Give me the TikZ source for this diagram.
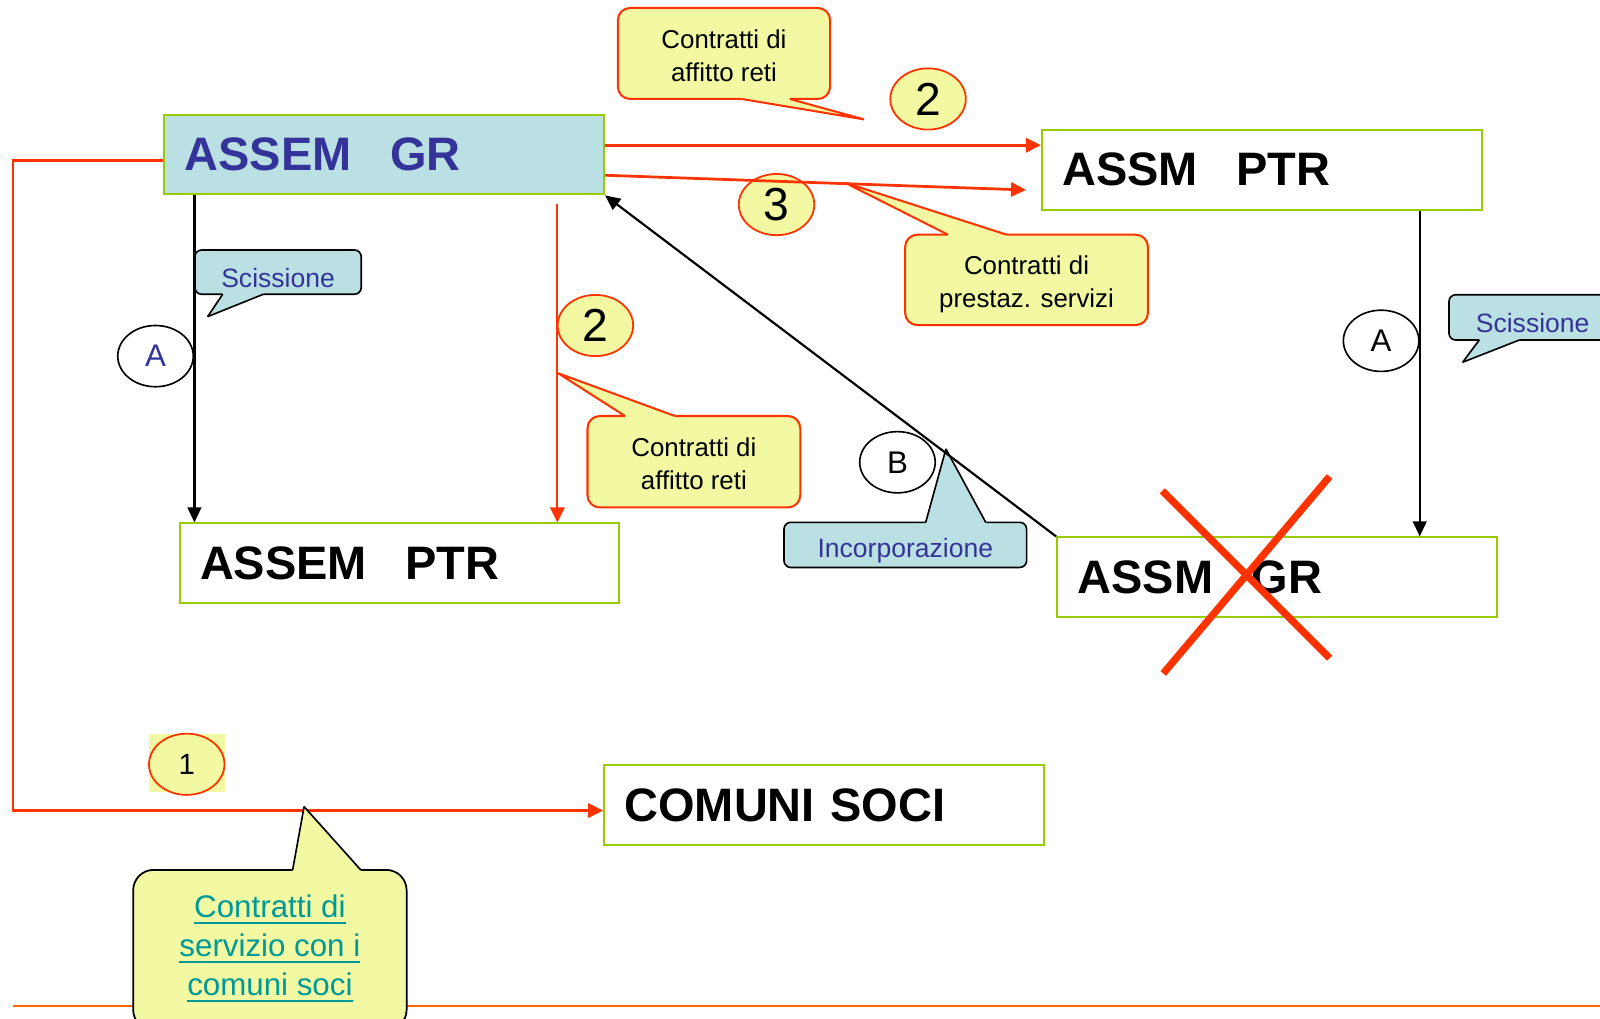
\documentclass[tikz,border=0pt]{standalone}
\usepackage{fontspec}
\setmainfont{Liberation Sans}
\usetikzlibrary{shapes.geometric,arrows.meta,calc}

\definecolor{boxgreen}{HTML}{99CC00}
\definecolor{lblue}{HTML}{BBE0E3}
\definecolor{dblue}{HTML}{333399}
\definecolor{redl}{HTML}{FF3300}
\definecolor{yel}{HTML}{F2F9A2}
\definecolor{orangel}{HTML}{FF6600}
\definecolor{tealt}{HTML}{009999}

\newcommand{\ulx}[1]{\leavevmode\setbox0\hbox{#1}\rlap{\rule[-4.5pt]{\wd0}{1.6pt}}\box0}
% #1 fill, #2 stroke style, #3 base 1, #4 tip, #5 base 2, #6 inward offset
\newcommand{\callptr}[6]{%
  \fill[#1] ($#3+#6$) -- #3 -- #4 -- #5 -- ($#5+#6$) -- cycle;
  \draw[#2] #3 -- #4 -- #5;}

\begin{document}
\begin{tikzpicture}[x=0.75pt,y=-0.75pt,
  entity/.style={draw=boxgreen, line width=1.5pt, anchor=north west,
    minimum height=58.5pt, text width=293.25pt, inner xsep=15pt, inner ysep=0pt,
    align=left, font=\bfseries\fontsize{34.5}{40}\selectfont},
  ycall/.style={draw=redl, fill=yel, line width=1.5pt, rounded corners=9pt,
    inner sep=0pt, align=center, text depth=0pt, font=\fontsize{19}{24}\selectfont},
  bcall/.style={draw=black, fill=lblue, line width=1.2pt, rounded corners=5pt, inner sep=0pt},
  btext/.style={inner sep=0pt, text=dblue, font=\fontsize{19.5}{24}\selectfont},
  ytext/.style={inner sep=0pt, align=center, font=\fontsize{19}{24}\selectfont},
  numc/.style={ellipse, draw=redl, fill=yel, line width=1.3pt, minimum width=55.5pt,
    minimum height=45pt, inner sep=0pt, font=\fontsize{34}{40}\selectfont},
  letc/.style={ellipse, draw=black, fill=white, line width=1.2pt, minimum width=55.5pt,
    minimum height=45pt, inner sep=0pt, font=\fontsize{23}{28}\selectfont},
  redarr/.style={draw=redl, line width=2pt, -{Triangle[length=11pt,width=10.5pt]}},
  blkarr/.style={draw=black, line width=1.6pt, -{Triangle[length=11pt,width=10pt]}},
  ptrred/.style={draw=redl, line width=1.5pt, line join=bevel},
  ptrblk/.style={draw=black, line width=1.2pt, line join=bevel}
]
\useasboundingbox (0,0) rectangle (1568,998);
\clip (0,0) rectangle (1568,998);

% boxes
\node[entity, fill=lblue, text=dblue] (gr1) at (160,111.5) {ASSEM\hspace{28.5pt}GR};
\node[entity] (ptr1) at (1020,126.4) {ASSM\hspace{28.5pt}PTR};
\node[entity] (ptr2) at (175,512) {ASSEM\hspace{28.5pt}PTR};
\node[entity] (gr2) at (1035,525.7) {ASSM\hspace{28.5pt}GR};
\node[entity] (soci) at (591,749) {COMUNI SOCI};

% ellipses
\fill[yel] (146,719.5) rectangle (220.5,776);
\node[numc, font=\fontsize{21.5}{26}\selectfont] (n1) at (183,749) {1};
\node[numc] (n2a) at (909.5,97) {2};
\node[numc] (n3) at (761,200.5) {3};
\node[numc] (n2b) at (583.5,319) {2};
\node[letc, text=dblue] (eA1) at (152.4,349) {A};
\node[letc] (eA2) at (1353.5,334) {A};
\node[letc] (eB) at (879.5,453) {B};

% yellow callouts
\node[ycall, minimum width=156pt, minimum height=66.9pt] (c1) at (709.5,52.4) {};
\node[ytext] (c1t) at ([yshift=-1.5pt]c1.center) {Contratti di\\affitto reti};
\callptr{yel}{ptrred}{(726.8,97)}{(846.7,117)}{(774,97)}{(0,-3)}
\node[ycall, minimum width=178.5pt, minimum height=66.45pt] (c2) at (1006,274.3) {};
\node[ytext, text depth=0pt] (c2t) at ([yshift=-1.5pt]c2.center) {Contratti di\\prestaz. servizi};
\callptr{yel}{ptrred}{(929,230)}{(828,179)}{(986.5,230)}{(0,3)}
\node[ycall, minimum width=156.4pt, minimum height=67.2pt] (c3) at (680,452.5) {};
\node[ytext] (c3t) at ([yshift=-1.5pt]c3.center) {Contratti di\\affitto reti};
\callptr{yel}{ptrred}{(612.5,407.7)}{(547,365.8)}{(661.5,407.7)}{(0,3)}

% blue callouts
\node[bcall, minimum width=122.25pt, minimum height=32.55pt] (scL) at (272.5,266.7) {};
\callptr{lblue}{ptrblk}{(218.2,288.4)}{(203.5,310.3)}{(258,288.4)}{(0,-3)}
\node[btext] (scLt) at ([yshift=-4pt]scL.center) {Scissione};
\node[bcall, minimum width=123pt, minimum height=33.3pt] (scR) at (1502,311) {};
\callptr{lblue}{ptrblk}{(1449.7,333.2)}{(1433.4,355)}{(1489,333.2)}{(0,-3)}
\node[btext] (scRt) at ([yshift=-4pt]scR.center) {Scissione};
\node[bcall, minimum width=178.35pt, minimum height=33.15pt] (inc) at (887.2,534) {};
\callptr{lblue}{ptrblk}{(907.2,511.9)}{(927,440)}{(966,511.9)}{(0,3)}
\node[btext] (inct) at ([yshift=-4pt]inc.center) {Incorporazione};

% connectors
\coordinate (s2) at ([yshift=6.9pt]gr1.east);
\draw[redarr] (s2) -- (s2 -| ptr1.west);
\draw[redarr] ([yshift=-15.2pt]gr1.east) -- ([xshift=-10.9pt,yshift=-14.85pt]ptr1.west);
\coordinate (r2) at (546.2,200);
\draw[redarr, line width=1.5pt] (r2) -- (r2 |- ptr2.north);
\coordinate (aL) at ([xshift=22.9pt]gr1.south west);
\draw[blkarr] (aL) -- (aL |- ptr2.north);
\coordinate (aR) at ([xshift=278.5pt]ptr1.south west);
\draw[blkarr] (aR) -- (aR |- gr2.north);
\draw[blkarr] (gr2.north west) -- (gr1.south east);
\draw[redarr, line width=1.8pt] ([yshift=-4.2pt]gr1.west) -- ++(-147,0) |- ([yshift=-4pt]soci.west);

% bottom rule
\draw[orangel, line width=1.4pt] (13,985.6) -- (1568,985.6);

% bottom callout
\node[draw=black, fill=yel, line width=1.3pt, rounded corners=15pt, minimum width=201pt,
  minimum height=117.75pt, inner sep=0pt] (c5) at (264.5,931) {};
\callptr{yel}{ptrblk}{(286.8,852.5)}{(298,790.5)}{(353.5,852.5)}{(0,3)}
\node[font=\fontsize{23}{28.7}\selectfont, text=tealt, align=center, inner sep=0pt] (c5t)
  at (264.5,929.5) {\ulx{Contratti di}\\\ulx{servizio con i}\\\ulx{comuni soci}};

% red cross
\draw[redl, line width=5.3pt] (1139,481) -- (1303,645);
\draw[redl, line width=5.3pt] (1303,467) -- (1140,660);
\end{tikzpicture}
\end{document}
